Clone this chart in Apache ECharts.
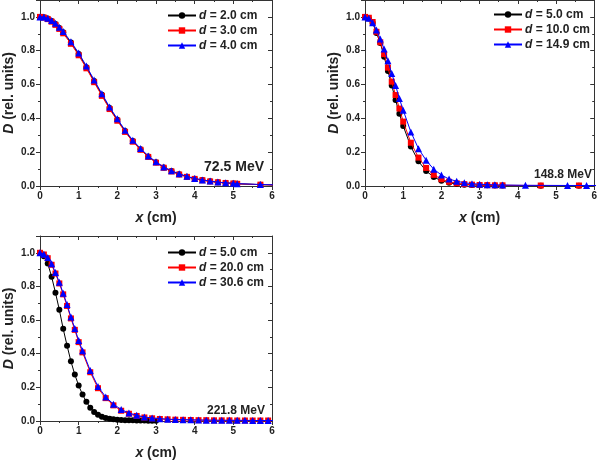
<!DOCTYPE html>
<html><head><meta charset="utf-8">
<script src="https://cdn.jsdelivr.net/npm/echarts@6/dist/echarts.min.js"></script>
<style>html,body{margin:0;padding:0;background:#fff}#c{width:600px;height:461px}</style>
</head><body><div id="c"></div>
<script>
// ---------- DATA ----------
const xTicks = [0, 1, 2, 3, 4, 5, 6];
const yTicks = [0.0, 0.2, 0.4, 0.6, 0.8, 1.0];

// Panel 1: 72.5 MeV
const p1Label = '72.5 MeV';
const p1Names = ['2.0', '3.0', '4.0'];
const p1X = [0,0.1,0.2,0.3,0.4,0.5,0.6,0.8,1.0,1.2,1.4,1.6,1.8,2.0,2.2,2.4,2.6,2.8,3.0,3.2,3.4,3.6,3.8,4.0,4.2,4.4,4.6,4.8,5.0,5.1,5.7,6.2];
const p1Black = [1.0,0.998,0.99,0.976,0.958,0.935,0.909,0.848,0.781,0.703,0.621,0.54,0.461,0.392,0.325,0.266,0.218,0.175,0.14,0.11,0.088,0.07,0.055,0.043,0.035,0.028,0.022,0.018,0.015,0.013,0.008,0.005];
const p1Red   = [1.0,0.996,0.987,0.972,0.953,0.929,0.903,0.841,0.773,0.696,0.614,0.533,0.455,0.386,0.32,0.262,0.214,0.172,0.138,0.108,0.086,0.068,0.054,0.042,0.034,0.027,0.022,0.018,0.015,0.013,0.008,0.005];
const p1Blue  = [1.0,0.999,0.992,0.979,0.962,0.939,0.914,0.853,0.787,0.709,0.627,0.546,0.467,0.397,0.33,0.27,0.222,0.178,0.143,0.113,0.09,0.072,0.057,0.045,0.036,0.029,0.023,0.019,0.016,0.014,0.009,0.006];

// Panel 2: 148.8 MeV
const p2Label = '148.8 MeV';
const p2Names = ['5.0', '10.0', '14.9'];
const p2XA = [0,0.1,0.2,0.3,0.4,0.5,0.6,0.7,0.8,0.9,1.0,1.2,1.4,1.6,1.8,2.0,2.2,2.4,2.6,2.8,3.0,3.2,3.4,3.6,4.6,5.6,6.2];
const p2Black = [1.0,0.99,0.966,0.905,0.846,0.765,0.68,0.594,0.509,0.428,0.355,0.233,0.146,0.089,0.053,0.031,0.019,0.012,0.008,0.006,0.005,0.004,0.003,0.003,0.002,0.002,0.002];
const p2Red   = [1.0,0.995,0.97,0.912,0.85,0.78,0.70,0.617,0.538,0.458,0.381,0.256,0.168,0.107,0.066,0.04,0.025,0.016,0.011,0.008,0.006,0.005,0.004,0.004,0.003,0.003,0.002];
const p2XB = [0,0.1,0.2,0.3,0.4,0.5,0.6,0.7,0.8,0.9,1.0,1.2,1.4,1.6,1.8,2.0,2.2,2.4,2.6,2.8,3.0,3.2,3.4,3.6,4.2,5.3,5.8,6.2];
const p2Blue  = [1.0,0.992,0.965,0.922,0.87,0.81,0.74,0.665,0.595,0.517,0.448,0.32,0.221,0.152,0.099,0.065,0.041,0.028,0.019,0.014,0.011,0.008,0.007,0.006,0.004,0.003,0.003,0.003];

// Panel 3: 221.8 MeV
const p3Label = '221.8 MeV';
const p3Names = ['5.0', '20.0', '30.6'];
const p3XA = [0,0.1,0.2,0.3,0.4,0.5,0.6,0.7,0.8,0.9,1.0,1.1,1.2,1.3,1.4,1.5,1.6,1.7,1.8,1.9,2.0,2.1,2.2,2.3,2.4,2.5,2.6,2.7,2.8,2.9,3.0];
const p3Black = [1.0,0.98,0.937,0.858,0.763,0.661,0.548,0.448,0.355,0.276,0.211,0.157,0.114,0.079,0.054,0.037,0.026,0.018,0.013,0.01,0.008,0.006,0.005,0.004,0.004,0.003,0.003,0.003,0.002,0.002,0.002];
const p3XB = [0,0.1,0.2,0.3,0.4,0.5,0.6,0.7,0.8,0.9,1.0,1.1,1.3,1.5,1.7,1.9,2.1,2.3,2.5,2.7,2.9,3.1,3.3,3.5,3.7,3.9,4.1,4.3,4.5,4.7,4.9,5.1,5.3,5.5,5.7,5.9,6.1];
const p3Red  = [1.0,0.99,0.968,0.929,0.877,0.818,0.753,0.684,0.61,0.542,0.469,0.408,0.29,0.195,0.136,0.093,0.061,0.043,0.03,0.021,0.016,0.012,0.01,0.008,0.007,0.006,0.005,0.005,0.004,0.004,0.004,0.003,0.003,0.003,0.003,0.003,0.003];
const p3Blue = [1.0,0.992,0.972,0.935,0.883,0.825,0.76,0.692,0.618,0.55,0.478,0.418,0.3,0.205,0.143,0.1,0.068,0.048,0.034,0.024,0.018,0.014,0.011,0.009,0.008,0.007,0.006,0.005,0.005,0.004,0.004,0.004,0.004,0.003,0.003,0.003,0.003];

// ---------- BUILD ----------
const FONT = '"Liberation Sans", Arial, sans-serif';
const AX = '#333';
const grids = [
  {left: 40, top: 0, width: 232, height: 186},
  {left: 365, top: 0, width: 231, height: 186},
  {left: 40, top: 236, width: 232, height: 186}
];
const xAxes = [], yAxes = [], series = [], legends = [];
const legendText = {};
const zip = (xs, ys) => xs.map((x, i) => [x, ys[i]]);

grids.forEach((g, gi) => {
  const base = {gridIndex: gi, type: 'value', min: 0, max: 6, interval: 1,
    axisLine: {show: true, onZero: false, lineStyle: {color: AX, width: 1}},
    splitLine: {show: false},
    minorTick: {show: true, splitNumber: 2, length: 2, lineStyle: {color: AX}},
  };
  xAxes.push(Object.assign({}, base, {position: 'bottom',
    axisTick: {show: true, inside: false, length: 4, lineStyle: {color: AX}},
    axisLabel: {color: '#222', fontFamily: FONT, fontWeight: 'bold', fontSize: 10, margin: 5,
      formatter: v => xTicks.includes(v) ? String(v) : ''},
    name: '{i|x} (cm)', nameLocation: 'middle', nameGap: 25,
    nameTextStyle: {color: '#222', fontFamily: FONT, fontWeight: 'bold', fontSize: 14,
      rich: {i: {fontStyle: 'italic', fontWeight: 'bold', fontFamily: FONT, fontSize: 14, color: '#222'}}}
  }));
  xAxes.push(Object.assign({}, base, {position: 'top',
    axisTick: {show: true, inside: true, length: 4, lineStyle: {color: AX}},
    minorTick: {show: true, splitNumber: 2, length: 2, lineStyle: {color: AX}},
    axisLabel: {show: false}}));
  const ybase = {gridIndex: gi, type: 'value', min: 0, max: 1.1, interval: 0.2,
    axisLine: {show: true, onZero: false, lineStyle: {color: AX, width: 1}},
    splitLine: {show: false},
    minorTick: {show: true, splitNumber: 2, length: 2, lineStyle: {color: AX}},
  };
  yAxes.push(Object.assign({}, ybase, {position: 'left',
    axisTick: {show: true, inside: false, length: 4, lineStyle: {color: AX}},
    axisLabel: {color: '#222', fontFamily: FONT, fontWeight: 'bold', fontSize: 10, margin: 5,
      formatter: v => v > 1.05 ? '' : v.toFixed(1)},
    name: '{i|D} (rel. units)', nameLocation: 'middle', nameGap: 24,
    nameTextStyle: {color: '#222', fontFamily: FONT, fontWeight: 'bold', fontSize: 14,
      rich: {i: {fontStyle: 'italic', fontWeight: 'bold', fontFamily: FONT, fontSize: 14, color: '#222'}}}
  }));
  yAxes.push(Object.assign({}, ybase, {position: 'right',
    axisTick: {show: true, inside: true, length: 4, lineStyle: {color: AX}},
    axisLabel: {show: false}}));
});

const styles = [
  {color: '#000000', symbol: 'circle', size: 6},
  {color: '#ff0000', symbol: 'rect', size: 6},
  {color: '#0000ff', symbol: 'triangle', size: 7}
];
const panels = [
  {names: p1Names, data: [zip(p1X, p1Black), zip(p1X, p1Red), zip(p1X, p1Blue)]},
  {names: p2Names, data: [zip(p2XA, p2Black), zip(p2XA, p2Red), zip(p2XB, p2Blue)]},
  {names: p3Names, data: [zip(p3XA, p3Black), zip(p3XB, p3Red), zip(p3XB, p3Blue)]}
];
const legendPos = [{left: 167, top: 8}, {left: 493, top: 7}, {left: 167, top: 245}];
panels.forEach((p, gi) => {
  const ids = [];
  p.data.forEach((d, si) => {
    const id = 'p' + gi + 's' + si;
    ids.push(id);
    legendText[id] = '{i|d} = ' + p.names[si] + ' cm';
    const st = styles[si];
    series.push({type: 'line', name: id, xAxisIndex: gi * 2, yAxisIndex: gi * 2, data: d,
      symbol: st.symbol, symbolSize: st.size, showAllSymbol: true, clip: true,
      lineStyle: {color: st.color, width: 1}, itemStyle: {color: st.color}, z: 3 + si,
      emphasis: {disabled: true}, animation: false});
  });
  legends.push({data: ids, orient: 'vertical', left: legendPos[gi].left, top: legendPos[gi].top,
    itemWidth: 28, itemHeight: 8, itemGap: 0, padding: 0,
    formatter: n => legendText[n],
    textStyle: {color: '#222', fontFamily: FONT, fontWeight: 'bold', fontSize: 12, lineHeight: 15, padding: [0, 0, 0, -2],
      rich: {i: {fontStyle: 'italic', fontWeight: 'bold', fontFamily: FONT, fontSize: 12, color: '#222'}}}});
});

const energy = [
  {text: p1Label, right: 600 - 264, y: 166, size: 14},
  {text: p2Label, right: 600 - 592, y: 173, size: 12},
  {text: p3Label, right: 600 - 265, y: 409, size: 12}
];
const graphic = energy.map(e => ({type: 'text', right: e.right, top: e.y - e.size * 0.4,
  style: {text: e.text, fill: '#222', font: 'bold ' + e.size + 'px ' + FONT}}));

const chart = echarts.init(document.getElementById('c'), null, {renderer: 'canvas'});
chart.setOption({animation: false, backgroundColor: '#fff', grid: grids, xAxis: xAxes, yAxis: yAxes,
  series: series, legend: legends, graphic: graphic});
</script></body></html>
